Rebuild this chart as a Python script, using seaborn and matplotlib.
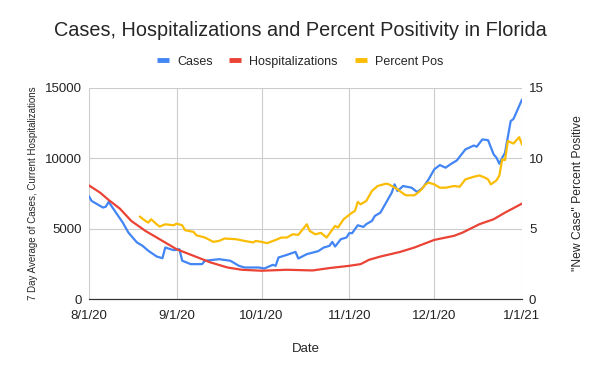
import matplotlib
matplotlib.use("Agg")
import matplotlib.pyplot as plt
from matplotlib.lines import Line2D
import seaborn as sns
import pandas as pd

# values (7 day averages / percent)
case_dates = ["8/1/20", "8/2/20", "8/6/20", "8/7/20", "8/8/20", "8/9/20", "8/11/20", "8/13/20", "8/15/20",
              "8/18/20", "8/20/20", "8/22/20", "8/25/20", "8/27/20", "8/28/20", "8/31/20", "9/2/20", "9/3/20",
              "9/6/20", "9/10/20", "9/11/20", "9/16/20", "9/20/20", "9/23/20", "9/25/20", "9/30/20", "10/2/20",
              "10/5/20", "10/6/20", "10/7/20", "10/10/20", "10/13/20", "10/14/20", "10/17/20", "10/21/20",
              "10/23/20", "10/25/20", "10/26/20", "10/27/20", "10/29/20", "10/31/20", "11/1/20", "11/2/20",
              "11/4/20", "11/6/20", "11/7/20", "11/9/20", "11/10/20", "11/12/20", "11/14/20", "11/16/20",
              "11/17/20", "11/18/20", "11/20/20", "11/23/20", "11/25/20", "11/27/20", "11/29/20", "12/1/20",
              "12/3/20", "12/5/20", "12/7/20", "12/9/20", "12/12/20", "12/15/20", "12/16/20", "12/18/20",
              "12/20/20", "12/22/20", "12/23/20", "12/24/20", "12/25/20", "12/26/20", "12/28/20", "12/29/20",
              "1/1/21"]
cases = [7320, 6970, 6500, 6560, 6900, 6610, 6020, 5430, 4720,
         4020, 3780, 3430, 3020, 2900, 3660, 3470, 3540, 2720,
         2480, 2480, 2720, 2830, 2720, 2360, 2240, 2240, 2170,
         2430, 2360, 2950, 3140, 3350, 2880, 3190, 3400,
         3660, 3780, 4060, 3730, 4250, 4370, 4680, 4680,
         5240, 5125, 5320, 5550, 5900, 6140, 6850, 7560,
         8150, 7680, 8030, 7910, 7600, 7910, 8500, 9210,
         9520, 9330, 9610, 9850, 10630, 10910, 10820, 11340,
         11290, 10270, 10040, 9610, 10040, 10390, 12640, 12800,
         14170]

hosp_dates = ["8/1/20", "8/5/20", "8/8/20", "8/12/20", "8/16/20", "8/21/20", "8/26/20", "9/1/20", "9/7/20",
              "9/13/20", "9/19/20", "9/24/20", "10/1/20", "10/10/20", "10/19/20", "10/25/20", "11/1/20",
              "11/5/20", "11/8/20", "11/12/20", "11/19/20", "11/24/20", "12/1/20", "12/8/20", "12/11/20",
              "12/17/20", "12/22/20", "12/26/20", "1/1/21"]
hosp = [8080, 7560, 7040, 6420, 5550, 4840, 4250, 3540, 3070,
        2600, 2240, 2080, 2010, 2080, 2030, 2200, 2360,
        2480, 2790, 3020, 3350, 3660, 4200, 4490, 4720,
        5320, 5670, 6140, 6780]

pos_dates = ["8/19/20", "8/21/20", "8/22/20", "8/23/20", "8/25/20", "8/26/20", "8/28/20", "8/31/20", "9/1/20",
             "9/3/20", "9/4/20", "9/7/20", "9/8/20", "9/11/20", "9/14/20", "9/16/20", "9/18/20", "9/22/20",
             "9/25/20", "9/28/20", "9/29/20", "10/1/20", "10/3/20", "10/6/20", "10/8/20", "10/10/20",
             "10/12/20", "10/14/20", "10/17/20", "10/18/20", "10/20/20", "10/22/20", "10/24/20", "10/27/20",
             "10/28/20", "10/30/20", "11/2/20", "11/3/20", "11/4/20", "11/5/20", "11/7/20", "11/9/20",
             "11/11/20", "11/14/20", "11/15/20", "11/18/20", "11/20/20", "11/21/20", "11/24/20", "11/26/20",
             "11/28/20", "11/29/20", "12/1/20", "12/3/20", "12/5/20", "12/8/20", "12/10/20", "12/12/20",
             "12/15/20", "12/17/20", "12/19/20", "12/20/20", "12/21/20", "12/23/20", "12/24/20", "12/25/20",
             "12/26/20", "12/27/20", "12/29/20", "12/31/20", "1/1/21"]
pos = [5.86, 5.55, 5.43, 5.67, 5.31, 5.15, 5.31, 5.24, 5.36,
       5.24, 4.89, 4.77, 4.53, 4.37, 4.06, 4.13, 4.30, 4.25,
       4.13, 4.02, 4.13, 4.06, 3.97, 4.20, 4.37, 4.37,
       4.60, 4.56, 5.31, 4.84, 4.60, 4.70, 4.37, 5.20,
       5.08, 5.67, 6.14, 6.26, 6.90, 6.73, 6.97, 7.68,
       8.03, 8.20, 8.15, 7.80, 7.50, 7.37, 7.37, 7.68,
       8.15, 8.27, 8.15, 7.91, 7.91, 8.03, 7.98, 8.50,
       8.69, 8.78, 8.62, 8.50, 8.15, 8.43, 8.78, 9.92,
       9.87, 11.22, 11.05, 11.5, 10.98]

month_ticks = ["8/1/20", "9/1/20", "10/1/20", "11/1/20", "12/1/20", "1/1/21"]
left_ticks = [0, 5000, 10000, 15000]
right_ticks = [0, 5, 10, 15]

blue, red, yellow = "#4285F4", "#EA4335", "#FBBC04"

fmt = "%m/%d/%y"
df_cases = pd.DataFrame({"date": pd.to_datetime(case_dates, format=fmt), "value": cases})
df_hosp = pd.DataFrame({"date": pd.to_datetime(hosp_dates, format=fmt), "value": hosp})
df_pos = pd.DataFrame({"date": pd.to_datetime(pos_dates, format=fmt), "value": pos})
tick_dt = pd.to_datetime(month_ticks, format=fmt)

sns.set_style("white")
plt.rcParams["font.family"] = ["Liberation Sans", "DejaVu Sans"]

fig, ax = plt.subplots(figsize=(6, 3.71), dpi=100)
fig.subplots_adjust(left=0.148, right=0.87, bottom=0.194, top=0.763)
ax2 = ax.twinx()

sns.lineplot(data=df_cases, x="date", y="value", ax=ax, color=blue, lw=1.6)
sns.lineplot(data=df_hosp, x="date", y="value", ax=ax, color=red, lw=1.6)
sns.lineplot(data=df_pos, x="date", y="value", ax=ax2, color=yellow, lw=1.6)

ax.set_xlim(tick_dt[0], tick_dt[-1])
ax.set_ylim(0, 15000)
ax2.set_ylim(0, 15)
ax.set_xticks(tick_dt)
ax.set_xticklabels(month_ticks)
ax.set_yticks(left_ticks)
ax2.set_yticks(right_ticks)

ax.grid(True, color="#cccccc", lw=0.8)
ax.set_axisbelow(True)
for a in (ax, ax2):
    for s in ("top", "left", "right"):
        a.spines[s].set_visible(False)
    a.spines["bottom"].set_color("#333333")
    a.tick_params(length=0, labelsize=9.5, colors="#222222")
ax.tick_params(axis="x", pad=8)
ax.tick_params(axis="y", pad=5)
ax2.tick_params(axis="y", pad=5)

ax.set_xlabel("Date", fontsize=9.5, labelpad=15)
ax.set_ylabel("7 Day Average of Cases, Current Hospitalizations", fontsize=7.0, labelpad=5)
ax2.set_ylabel('"New Case" Percent Positive', fontsize=8.7, labelpad=20)

fig.suptitle("Cases, Hospitalizations and Percent Positivity in Florida", fontsize=14.3,
             x=0.5, y=1 - 30.5 / 371, va="center")

# square legend keys like the original
handles = [Line2D([], [], color=c, lw=3.5, solid_capstyle="butt") for c in (blue, red, yellow)]
fig.legend(handles, ["Cases", "Hospitalizations", "Percent Pos"], loc="center", bbox_to_anchor=(0.5, 1 - 61.7 / 371),
           ncol=3, frameon=False, fontsize=9, handlelength=0.95, handletextpad=0.65, columnspacing=1.35)

fig.savefig("out.png", dpi=100)
